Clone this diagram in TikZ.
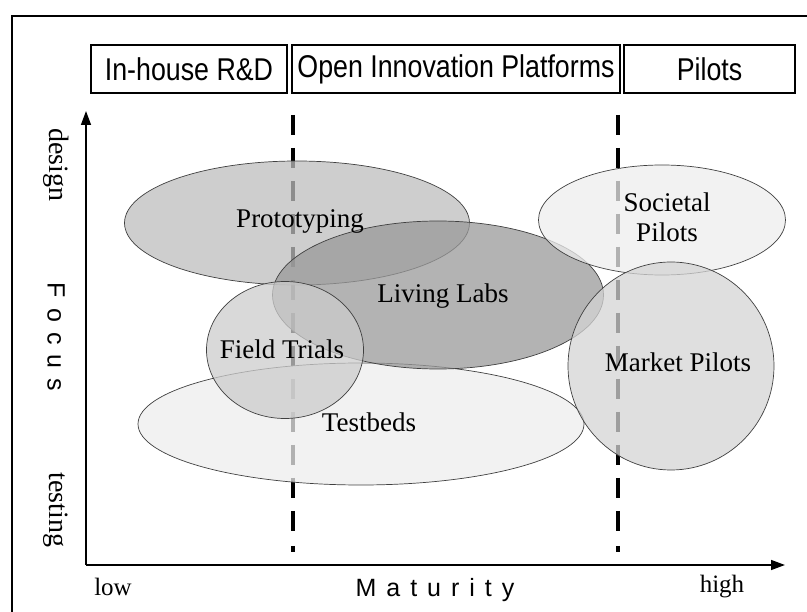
\documentclass[tikz,border=0pt]{standalone}
\usepackage{fontspec}
\setmainfont{Liberation Serif}
\newfontfamily\hsans[FakeStretch=0.85]{Liberation Sans}
\newfontfamily\spaced[LetterSpace=40]{Liberation Sans}
\usetikzlibrary{shapes.geometric,arrows.meta}
\definecolor{protofill}{gray}{0.74}
\definecolor{labfill}{gray}{0.60}
\definecolor{fieldfill}{gray}{0.80}
\definecolor{testfill}{gray}{0.93}
\definecolor{socfill}{gray}{0.93}
\definecolor{marketfill}{gray}{0.83}
\begin{document}
\begin{tikzpicture}[x=1pt,y=-1pt,
  hdr/.style={draw, line width=1.1pt, minimum height=48pt, inner sep=0pt,
    font=\hsans\fontsize{31.5}{33}\selectfont},
  blob/.style={ellipse, draw=black!75, line width=0.7pt, fill opacity=0.75, inner sep=0pt},
  lbl/.style={font=\fontsize{27}{30}\selectfont, align=center, inner sep=0pt},
  axlbl/.style={font=\fontsize{25}{27}\selectfont, inner sep=0pt},
  vlbl/.style={font=\fontsize{28}{30}\selectfont, inner sep=0pt, rotate=-90},
  axname/.style={font=\spaced\fontsize{25}{27}\selectfont, inner sep=0pt},
  divider/.style={line width=3.5pt, dash pattern=on 20pt off 13pt},
  axis/.style={line width=1.5pt, -{Triangle[length=14pt,width=10pt]}},
]
\useasboundingbox (0,0) rectangle (807,612);
% frame
\coordinate (fb) at (12,625);
\coordinate (ftl) at (12,16);
\coordinate (fr) at (820,16);
\draw[line width=1.2pt] (fb) -- (ftl) -- (fr);
% header boxes
\node[hdr, minimum width=196pt] (rd) at (189,69) {In-house R\&D};
\node[hdr, minimum width=328pt] (oip) at (456,69) {Open Innovation Platforms};
\node[hdr, minimum width=171pt] (pil) at (709.5,69) {Pilots};
% dividers
\coordinate (d1t) at (293,115); \coordinate (d1b) at (293,537);
\coordinate (d1p) at (293,546); \coordinate (d1q) at (293,552);
\coordinate (d2t) at (618,115); \coordinate (d2b) at (618,537);
\coordinate (d2p) at (618,546); \coordinate (d2q) at (618,552);
\draw[divider] (d1t) -- (d1b);
\draw[line width=3.5pt] (d1p) -- (d1q);
\draw[divider] (d2t) -- (d2b);
\draw[line width=3.5pt] (d2p) -- (d2q);
% axes
\coordinate (O) at (86,565);
\coordinate (ytop) at (86,111);
\coordinate (xend) at (785,565);
\draw[axis] (O) -- (ytop);
\draw[axis] (O) -- (xend);
% ellipses
\node[blob, fill=testfill, minimum width=446pt, minimum height=122pt] (testbeds) at (361,424) {};
\node[blob, fill=protofill, minimum width=345pt, minimum height=124pt] (proto) at (297,223) {};
\node[blob, fill=labfill, minimum width=331pt, minimum height=148pt] (labs) at (438,295) {};
\node[blob, fill=fieldfill, minimum width=157pt, minimum height=137pt] (field) at (285,350) {};
\node[blob, fill=socfill, minimum width=247pt, minimum height=110pt] (soc) at (662,220) {};
\node[blob, fill=marketfill, minimum width=206pt, minimum height=208pt] (market) at (671,366) {};
% ellipse labels
\node[lbl] (tproto) at (300,221) {Prototyping};
\node[lbl] (tlabs) at (443,296) {Living Labs};
\node[lbl] (tfield) at (282,349) {Field Trials};
\node[lbl] (ttest) at (369,422) {Testbeds};
\node[lbl] (tsoc) at (667,217) {Societal\\Pilots};
\node[lbl] (tmarket) at (678,362) {Market Pilots};
% axis labels
\node[vlbl] (design) at (56,165) {design};
\node[axname, rotate=-90] (focus) at (56,337) {Focus};
\node[vlbl] (testing) at (56,510) {testing};
\node[axlbl] (low) at (113,587) {low};
\node[axname] (mat) at (435,590) {Maturity};
\node[axlbl] (high) at (722,587) {high};
\end{tikzpicture}
\end{document}
